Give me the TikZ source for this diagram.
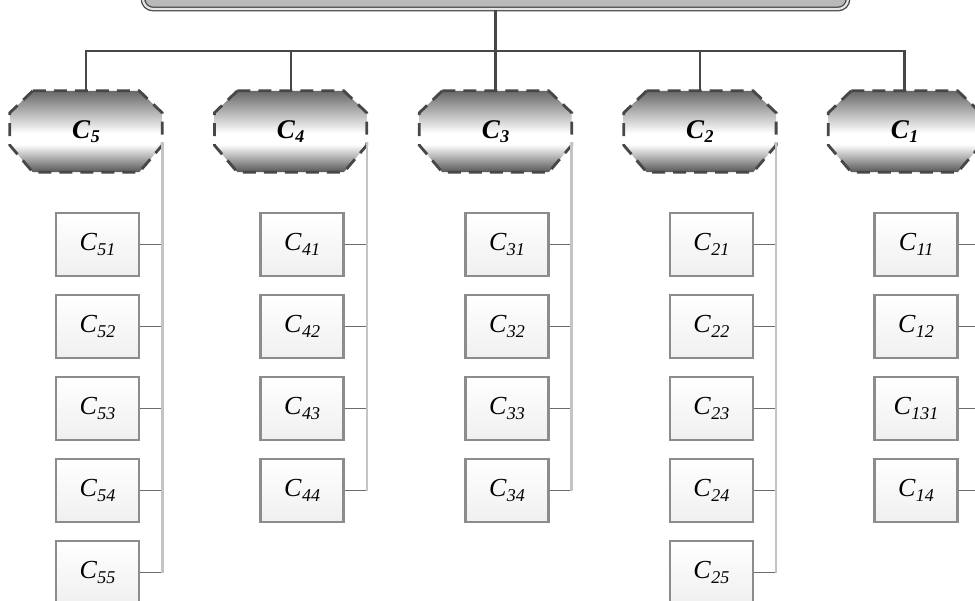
\documentclass[tikz,border=0pt]{standalone}
\usepackage{fontspec}
\setmainfont{Liberation Serif}
\usetikzlibrary{backgrounds}
\definecolor{linedark}{HTML}{474747}
\definecolor{boxgray}{HTML}{8C8C8C}
\definecolor{railgray}{HTML}{C4C4C4}
\definecolor{headdark}{HTML}{555555}
\definecolor{headtop}{HTML}{686868}
\pgfdeclareverticalshading{headshade}{100bp}{color(0bp)=(headdark); color(25bp)=(headdark); color(42bp)=(white); color(49bp)=(white); color(75bp)=(headtop); color(100bp)=(headtop)}
\newcommand{\cs}[1]{\textit{C\kern0.5pt\raisebox{-4.5pt}{\fontsize{18}{18}\selectfont #1}}}
\tikzset{
  conn/.style={draw=linedark, line width=2.2pt},
  railline/.style={draw=railgray, line width=2.6pt},
  stub/.style={draw=linedark!80, line width=1.8pt},
  head/.style={rectangle, minimum width=152pt, minimum height=81pt, inner sep=0pt,
    font=\fontsize{27}{27}\selectfont\bfseries},
  headfill/.style={shading=headshade},
  headline/.style={draw=linedark, line width=2.8pt, dash pattern=on 13pt off 8pt, line join=miter},
  leaf/.style={rectangle, minimum width=83pt, minimum height=63pt, inner sep=0pt,
    draw=boxgray, line width=2.4pt, top color=white, bottom color=gray!12,
    font=\fontsize{26}{26}\selectfont},
  topbox/.style={rectangle, rounded corners=10pt, minimum width=705pt, minimum height=70pt,
    draw=linedark, line width=1.3pt, double=gray!20, double distance=2.2pt, fill=gray!55}
}
\begin{document}
\begin{tikzpicture}[x=1pt,y=-1pt]
\useasboundingbox (0,0) rectangle (975,600);
\clip (0,0) rectangle (975,600);
\node[topbox] (top) at (495.5,-26) {};
\coordinate (bus) at (495.5,51);
% heads
\node[head] (c5) at (86,131.5) {\cs{5}};
\node[head] (c4) at (290.6,131.5) {\cs{4}};
\node[head] (c3) at (495.5,131.5) {\cs{3}};
\node[head] (c2) at (699.9,131.5) {\cs{2}};
\node[head] (c1) at (904.5,131.5) {\cs{1}};
\begin{pgfonlayer}{background}
\foreach \h in {c5,c4,c3,c2,c1} {
  \shade[headfill] ([xshift=23pt]\h.north west) -- ([xshift=-23pt]\h.north east)
    -- ([yshift=-22pt]\h.north east) -- ([yshift=27pt]\h.south east)
    -- ([xshift=-23pt]\h.south east) -- ([xshift=23pt]\h.south west)
    -- ([yshift=27pt]\h.south west) -- ([yshift=-22pt]\h.north west) -- cycle;
  \draw[headline] ([xshift=23pt]\h.north west) -- ([xshift=-23pt]\h.north east)
    -- ([yshift=-22pt]\h.north east) -- ([yshift=27pt]\h.south east)
    -- ([xshift=-23pt]\h.south east) -- ([xshift=23pt]\h.south west)
    -- ([yshift=27pt]\h.south west) -- ([yshift=-22pt]\h.north west) -- cycle;
}
\end{pgfonlayer}
\draw[conn] (top.south) -- (bus);
\draw[conn] (c5.north) |- (bus) -| (c1.north);
\foreach \h in {c4,c3,c2} { \draw[conn] (\h.north) -- (\h.north |- bus); }
% leaves
\foreach \h/\list in {c5/{51,52,53,54,55}, c4/{41,42,43,44}, c3/{31,32,33,34}, c2/{21,22,23,24,25}, c1/{11,12,131,14}} {
  \coordinate (r\h) at ([yshift=-11.5pt]\h.east);
  \foreach \s [count=\i] in \list {
    \node[leaf] (n\s) at ([xshift=11.5pt, yshift=-113pt-82pt*(\i-1)]\h.center) {\cs{\s}};
    \draw[stub] (n\s.east) -- (n\s.east -| r\h);
    \xdef\last{n\s}
  }
  \draw[railline] (r\h) -- (r\h |- \last.east);
}
\end{tikzpicture}
\end{document}
